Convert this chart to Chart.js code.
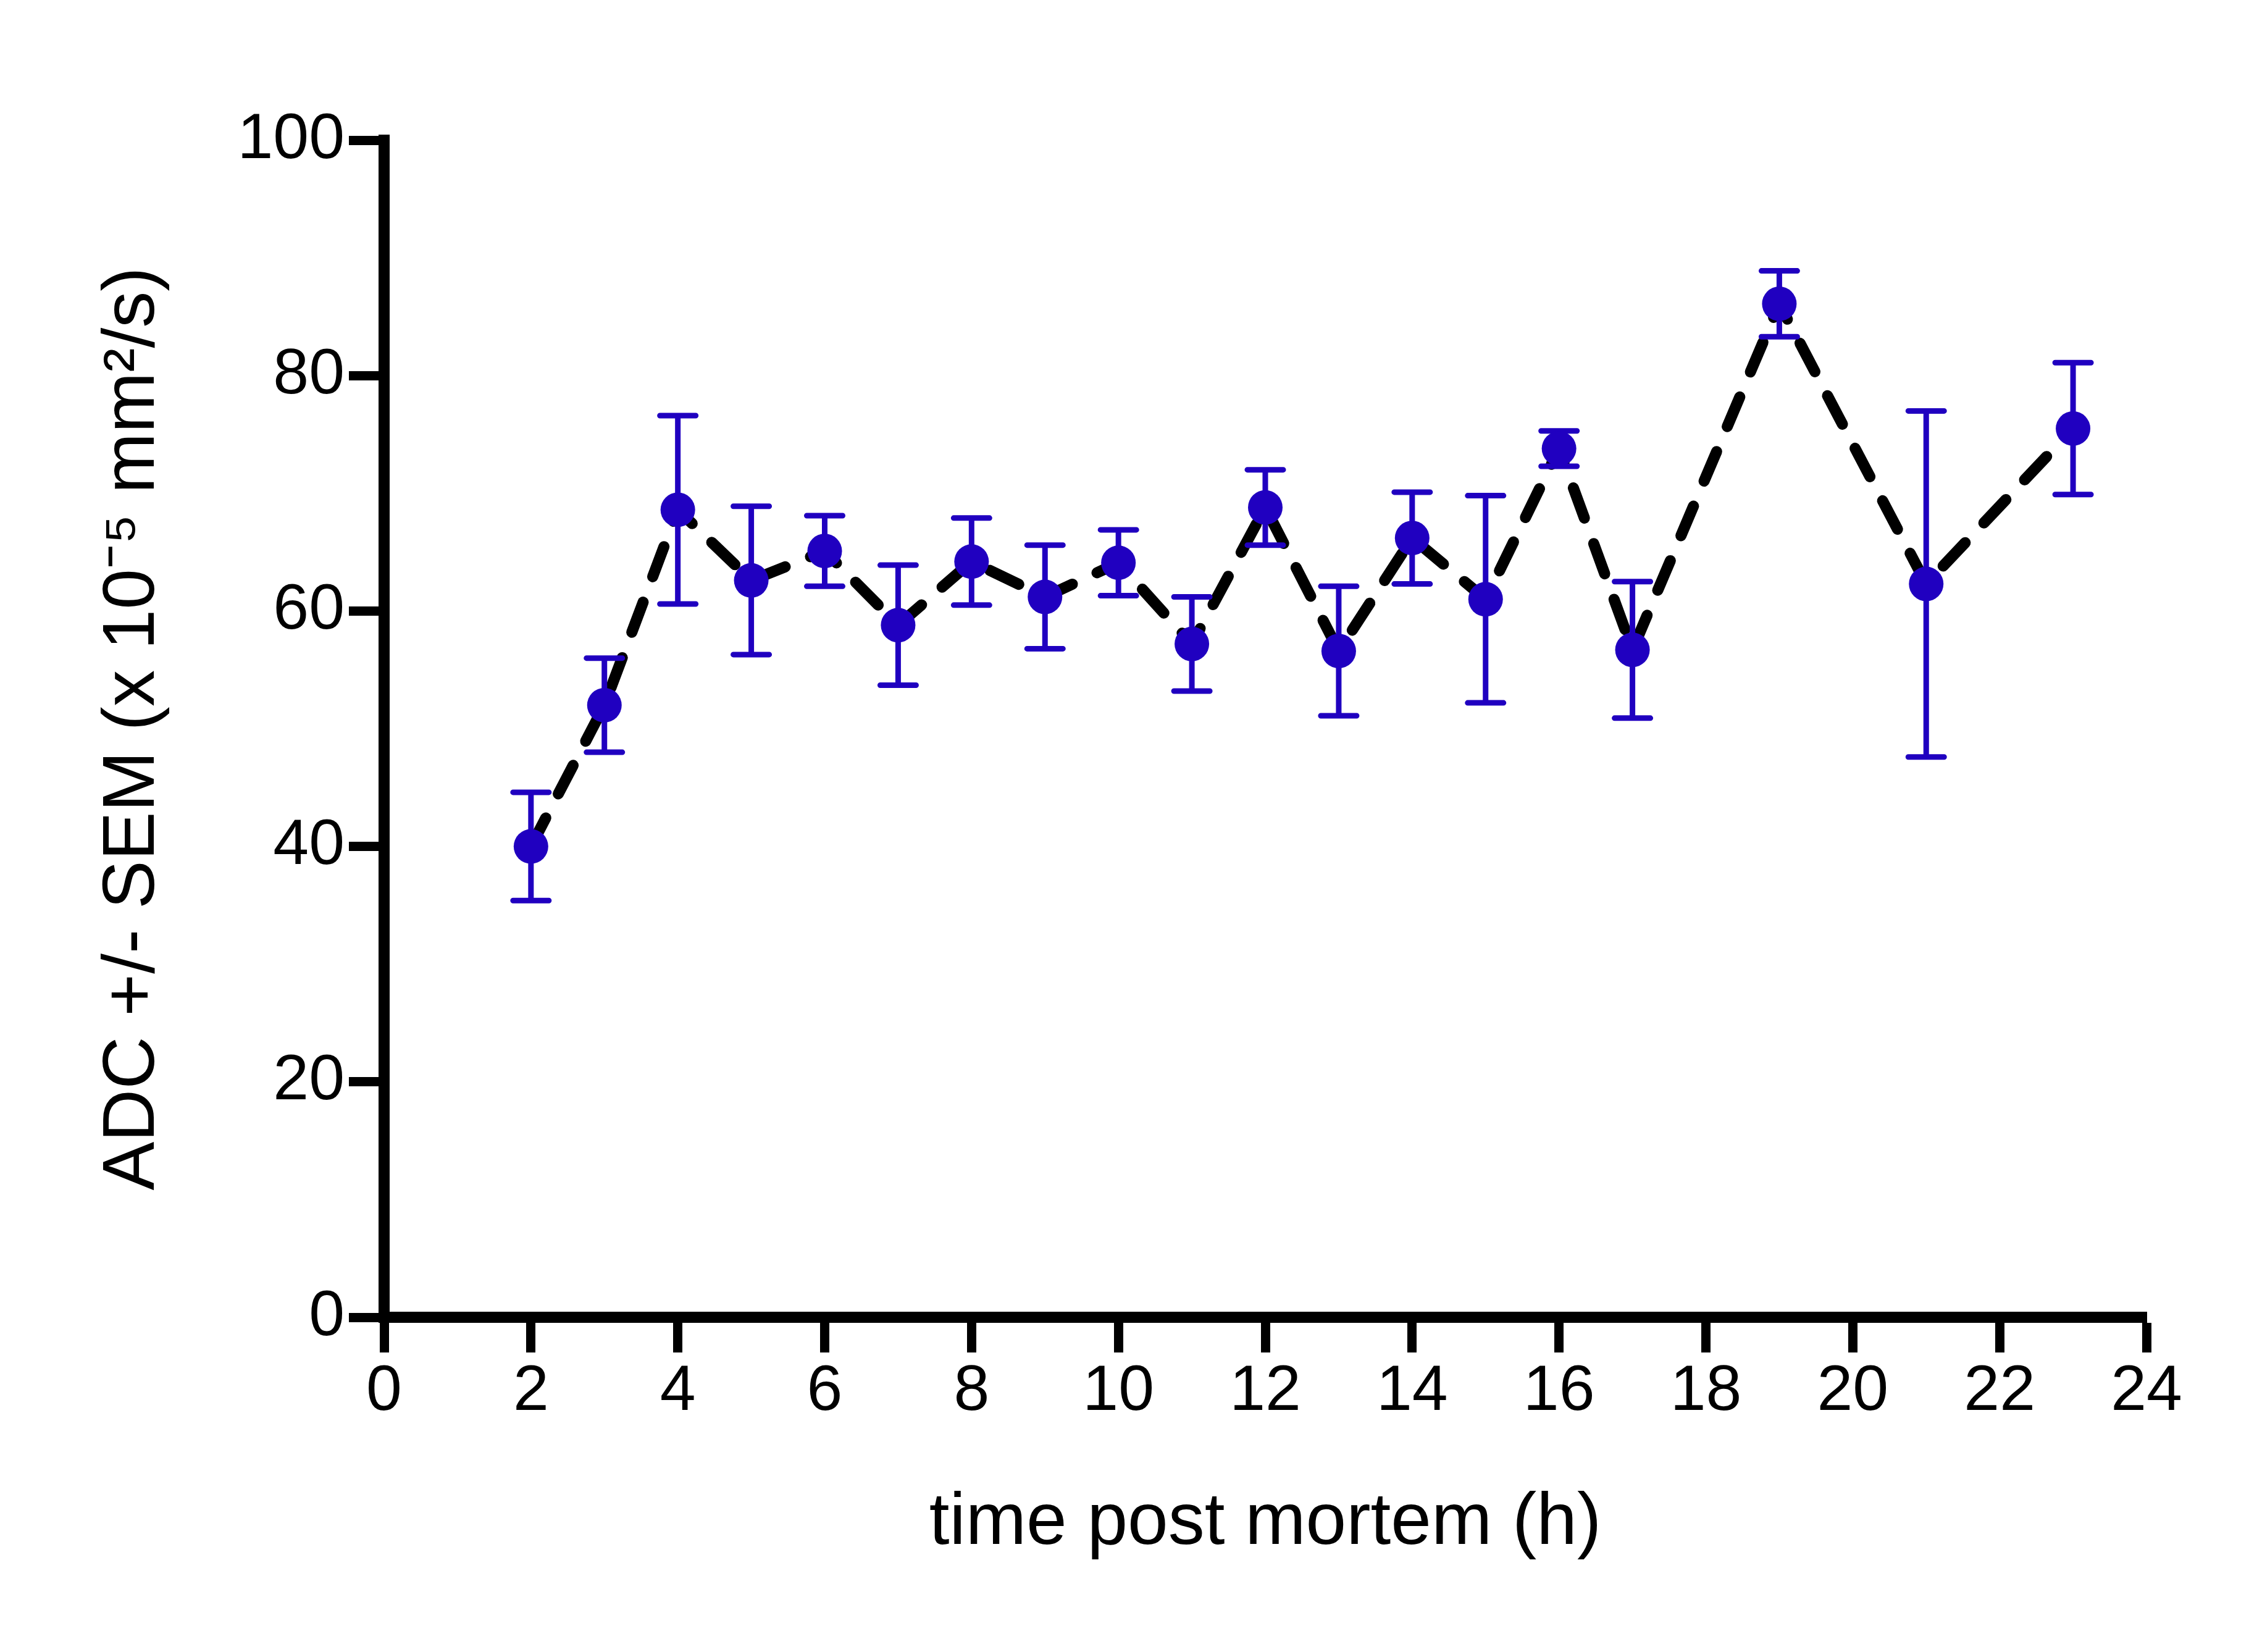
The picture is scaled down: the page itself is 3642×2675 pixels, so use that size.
<!DOCTYPE html>
<html>
<head>
<meta charset="utf-8">
<title>ADC post mortem</title>
<script src="https://cdn.jsdelivr.net/npm/chart.js@4/dist/chart.umd.min.js"></script>
<style>
  html, body { margin: 0; padding: 0; background: #fff; }
  canvas { display: block; }
</style>
</head>
<body>
<canvas id="chart" width="3642" height="2675"></canvas>
<script>
/* ADC vs time post mortem, mean +/- SEM, dashed line through the means */
const hours   = [2, 3, 4, 5, 6, 7, 8, 9, 10, 11, 12, 13, 14, 15, 16, 17, 19, 21, 23];
const adcMean = [40.0, 52.0, 68.6, 62.6, 65.1, 58.8, 64.2, 61.2, 64.1, 57.2, 68.8, 56.6, 66.2, 61.0, 73.8, 56.7, 86.1, 62.3, 75.5];
const adcSem  = [4.6, 4.0, 8.0, 6.3, 3.0, 5.1, 3.7, 4.4, 2.8, 4.0, 3.2, 5.5, 3.9, 8.8, 1.5, 5.8, 2.8, 14.7, 5.6];
const xTicks  = [0, 2, 4, 6, 8, 10, 12, 14, 16, 18, 20, 22, 24];
const yTicks  = [0, 20, 40, 60, 80, 100];

const BLUE = "#2000C0";
const FONT = "'Liberation Sans', Arial, Helvetica, sans-serif";

const points = hours.map((h, i) => ({ x: h, y: adcMean[i] }));

// draws the SEM whiskers just before the markers so the dots sit on top
const errorBars = {
  id: "errorBars",
  beforeDatasetDraw(chart, args) {
    if (args.index !== 0) return;
    const { ctx, scales: { x, y } } = chart;
    const capHalf = 29;
    ctx.save();
    ctx.strokeStyle = BLUE;
    ctx.lineWidth = 9;
    ctx.lineCap = "round";
    hours.forEach((h, i) => {
      const px = x.getPixelForValue(h);
      const top = y.getPixelForValue(adcMean[i] + adcSem[i]);
      const bot = y.getPixelForValue(adcMean[i] - adcSem[i]);
      ctx.beginPath();
      ctx.moveTo(px, top); ctx.lineTo(px, bot);
      ctx.moveTo(px - capHalf, top); ctx.lineTo(px + capHalf, top);
      ctx.moveTo(px - capHalf, bot); ctx.lineTo(px + capHalf, bot);
      ctx.stroke();
    });
    ctx.restore();
  }
};

new Chart(document.getElementById("chart"), {
  type: "scatter",
  data: {
    datasets: [
      {
        // markers (drawn last)
        data: points,
        order: 0,
        showLine: false,
        pointRadius: 28,
        pointHoverRadius: 28,
        pointBackgroundColor: BLUE,
        pointBorderWidth: 0,
      },
      {
        // dashed connecting line
        data: points,
        order: 1,
        showLine: true,
        pointRadius: 0,
        borderColor: "#000",
        borderWidth: 18,
        borderDash: [52, 44],
        borderCapStyle: "round",
        borderJoinStyle: "round",
        tension: 0,
      },
    ],
  },
  options: {
    responsive: false,
    devicePixelRatio: 1,
    animation: false,
    events: [],
    layout: { padding: { left: 0, right: 166, top: 227, bottom: 0 } },
    plugins: { legend: { display: false }, tooltip: { enabled: false } },
    scales: {
      x: {
        type: "linear",
        min: 0,
        max: 24,
        afterBuildTicks: s => { s.ticks = xTicks.map(v => ({ value: v })); },
        afterFit: s => { s.height = 542; },
        border: { display: true, color: "#000", width: 18 },
        grid: { drawOnChartArea: false, drawTicks: true, tickLength: 57, tickWidth: 15, tickColor: "#000" },
        ticks: { color: "#000", padding: 2, maxRotation: 0, font: { family: FONT, size: 104 } },
        title: {
          display: true,
          text: "time post mortem (h)",
          color: "#000",
          font: { family: FONT, size: 118 },
          padding: { top: 0, bottom: 137 },
        },
      },
      y: {
        type: "linear",
        min: 0,
        max: 100,
        afterBuildTicks: s => { s.ticks = yTicks.map(v => ({ value: v })); },
        afterFit: s => { s.width = 622; },
        border: { display: true, color: "#000", width: 18 },
        grid: { drawOnChartArea: false, drawTicks: true, tickLength: 57, tickWidth: 15, tickColor: "#000" },
        ticks: { color: "#000", padding: 7, font: { family: FONT, size: 104 } },
        title: {
          display: true,
          text: "ADC +/- SEM (x 10\u207B\u2075 mm\u00B2/s)",
          color: "#000",
          font: { family: FONT, size: 118 },
          padding: { top: 146, bottom: 0 },
        },
      },
    },
  },
  plugins: [errorBars],
});
</script>
</body>
</html>
